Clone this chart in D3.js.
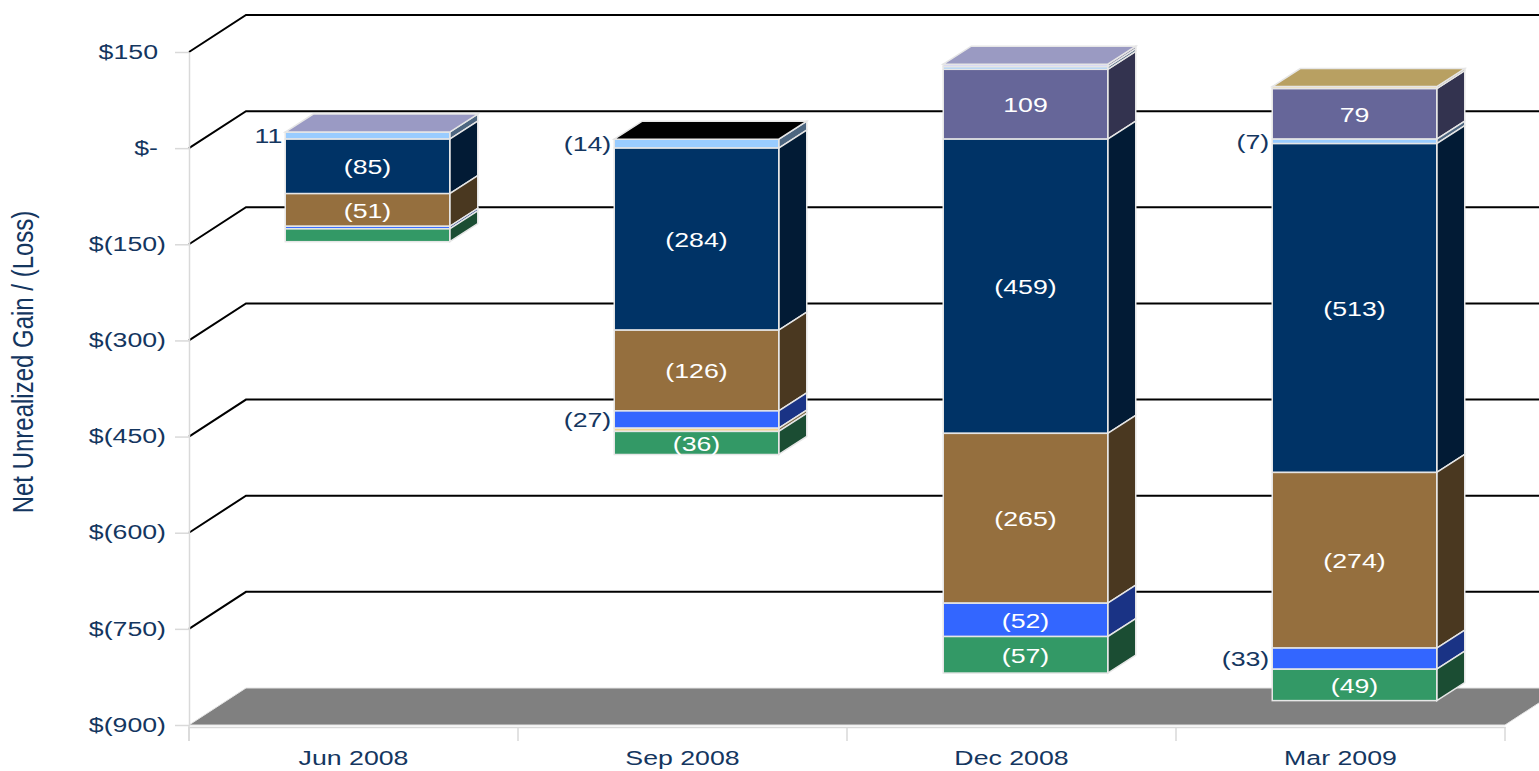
<!DOCTYPE html>
<html>
<head>
<meta charset="utf-8">
<script src="https://cdn.jsdelivr.net/npm/d3@7"></script>
<style>
  body { margin: 0; background: #fff; }
  svg { display: block; font-family: "Liberation Sans", Arial, sans-serif; }
</style>
</head>
<body>
<div id="chart"></div>
<script>
// quarters and tick values
const quarters = ["Jun 2008", "Sep 2008", "Dec 2008", "Mar 2009"];
const yTicks = [150, 0, -150, -300, -450, -600, -750, -900];

// series values (stack order from zero outward)
const purple    = [0, 0, 109, 79];
const lightBlue = [11, -14, 4, -7];
const navy      = [-85, -284, -459, -513];
const brown     = [-51, -126, -265, -274];
const blue      = [-4, -27, -52, -33];
const yellow    = [0, -5, 0, 3];
const green     = [-20, -36, -57, -49];
const lavender  = [0, 0, 4, 0];

// labels Excel did not show
const hiddenLabels = ["Jun 2008|green"];

const series = [
    { key: "purple",    values: purple,    front: "#666699", side: "#33334f" },
    { key: "lightBlue", values: lightBlue, front: "#99ccff", side: "#4d6680" },
    { key: "navy",      values: navy,      front: "#003366", side: "#021b35" },
    { key: "brown",     values: brown,     front: "#956f3e", side: "#4a3820" },
    { key: "blue",      values: blue,      front: "#3366ff", side: "#1a3385" },
    { key: "yellow",    values: yellow,    front: "#f5d48a", side: "#7d6a45" },
    { key: "green",     values: green,     front: "#339966", side: "#1b4d33" },
    { key: "lavender",  values: lavender,  front: "#d8d8f4", side: "#6c6c8a" }
];
// colour of the top face of each column
const topFace = ["#9a9ac4", "#000000", "#9a9ac2", "#b8a062"];

const width = 1539, height = 771;
const wallDX = 57, wallDY = -37;          // depth of the chart box
const barOffX = 14, barOffY = -9;         // bars sit a bit back in the box
const barDX = 28, barDY = -18;            // depth of a column
const textStretch = 1.37;
const textColor = "#14365f";
const fontSize = 19.5;

const svg = d3.select("#chart").append("svg").attr("width", width).attr("height", height);

const y = d3.scaleLinear().domain([-900, 150]).range([725, 52]);
const x = d3.scaleBand().domain(quarters).range([189, 1505]);

// gridlines on the back wall
svg.append("g").selectAll("polyline").data(yTicks.filter(t => t > -900)).enter().append("polyline")
    .attr("points", t => `${189},${y(t)} ${189 + wallDX},${y(t) + wallDY} ${width},${y(t) + wallDY}`)
    .attr("fill", "none").attr("stroke", "#000").attr("stroke-width", 2);

// floor
const fy = y(-900);
svg.append("polygon")
    .attr("points", `189,${fy} ${189 + wallDX},${fy + wallDY} ${1505 + wallDX},${fy + wallDY} 1505,${fy}`)
    .attr("fill", "#808080").attr("stroke", "#e4e4e4").attr("stroke-width", 1);

// left axis
const fmt = v => v === 0 ? "$-" : v < 0 ? `$(${-v})` : `$${v}`;
const yAxis = svg.append("g").attr("transform", "translate(189,0)")
    .call(d3.axisLeft(y).tickValues(yTicks).tickSize(14).tickSizeOuter(0).tickFormat(fmt));
yAxis.select(".domain").attr("stroke", "#d9d9d9").attr("stroke-width", 1.5);
yAxis.selectAll(".tick line").attr("stroke", "#d9d9d9").attr("stroke-width", 1.5);
yAxis.selectAll(".tick text")
    .attr("fill", textColor).attr("font-size", fontSize)
    .attr("x", d => -(23 + (d >= 0 ? 8 : 0)) / textStretch)
    .attr("transform", `scale(${textStretch},1)`);
svg.append("line").attr("x1", 189).attr("x2", 189).attr("y1", 725).attr("y2", 741)
    .attr("stroke", "#d9d9d9").attr("stroke-width", 1.5);

// bottom axis
const xAxis = svg.append("g").attr("transform", "translate(0,727)")
    .call(d3.axisBottom(x).tickSize(0).tickPadding(24));
xAxis.select(".domain").attr("stroke", "#d9d9d9").attr("stroke-width", 1.5);
xAxis.selectAll(".tick text")
    .attr("fill", textColor).attr("font-size", fontSize)
    .attr("transform", `scale(${textStretch},1)`);
svg.append("g").selectAll("line").data(quarters.map(q => x(q)).concat([x.range()[1]])).enter().append("line")
    .attr("x1", d => d).attr("x2", d => d).attr("y1", 727).attr("y2", 741)
    .attr("stroke", "#d9d9d9").attr("stroke-width", 1.5);

// y axis title
svg.append("text")
    .attr("transform", `translate(33,362) scale(1.2,1) rotate(-90)`)
    .attr("text-anchor", "middle").attr("fill", textColor).attr("font-size", 24)
    .text("Net Unrealized Gain / (Loss)");

// stack the columns: positives upward, negatives downward
const barW = x.bandwidth() * 0.5;
const bars = svg.append("g");
const labels = svg.append("g");

quarters.forEach((q, qi) => {
    const x0 = x(q) + (x.bandwidth() - barW) / 2 + barOffX;
    const x1 = x0 + barW;
    let pos = 0, neg = 0;
    const segs = [];
    series.forEach(s => {
        const v = s.values[qi];
        if (v === 0) return;
        let a, b;
        if (v > 0) { a = pos; b = pos + v; pos = b; }
        else { a = neg; b = neg + v; neg = b; }
        segs.push({ s, v, top: y(Math.max(a, b)) + barOffY, bot: y(Math.min(a, b)) + barOffY });
    });
    const g = bars.append("g");
    // side faces
    g.selectAll("polygon.side").data(segs).enter().append("polygon").attr("class", "side")
        .attr("points", d => `${x1},${d.bot} ${x1 + barDX},${d.bot + barDY} ${x1 + barDX},${d.top + barDY} ${x1},${d.top}`)
        .attr("fill", d => d.s.side).attr("stroke", "#e6e6e6").attr("stroke-width", 1.5);
    // front faces
    g.selectAll("rect").data(segs).enter().append("rect")
        .attr("x", x0).attr("y", d => d.top).attr("width", barW).attr("height", d => d.bot - d.top)
        .attr("fill", d => d.s.front).attr("stroke", "#e6e6e6").attr("stroke-width", 1.5);
    // top face
    const yt = y(pos) + barOffY;
    g.append("polygon")
        .attr("points", `${x0},${yt} ${x0 + barDX},${yt + barDY} ${x1 + barDX},${yt + barDY} ${x1},${yt}`)
        .attr("fill", topFace[qi]).attr("stroke", "#e6e6e6").attr("stroke-width", 1.5);

    // value labels
    segs.filter(d => Math.abs(d.v) >= 7 && !hiddenLabels.includes(`${q}|${d.s.key}`)).forEach(d => {
        const h = d.bot - d.top;
        const inside = h >= 22;
        const t = d.v < 0 ? `(${-d.v})` : `${d.v}`;
        const cx = inside ? (x0 + x1) / 2 : x0 - 3;
        labels.append("text")
            .attr("transform", `translate(${cx},${(d.top + d.bot) / 2 + 1}) scale(${textStretch},1)`)
            .attr("dy", "0.35em")
            .attr("text-anchor", inside ? "middle" : "end")
            .attr("fill", inside ? "#fff" : textColor)
            .attr("font-size", fontSize)
            .text(t);
    });
});
</script>
</body>
</html>
